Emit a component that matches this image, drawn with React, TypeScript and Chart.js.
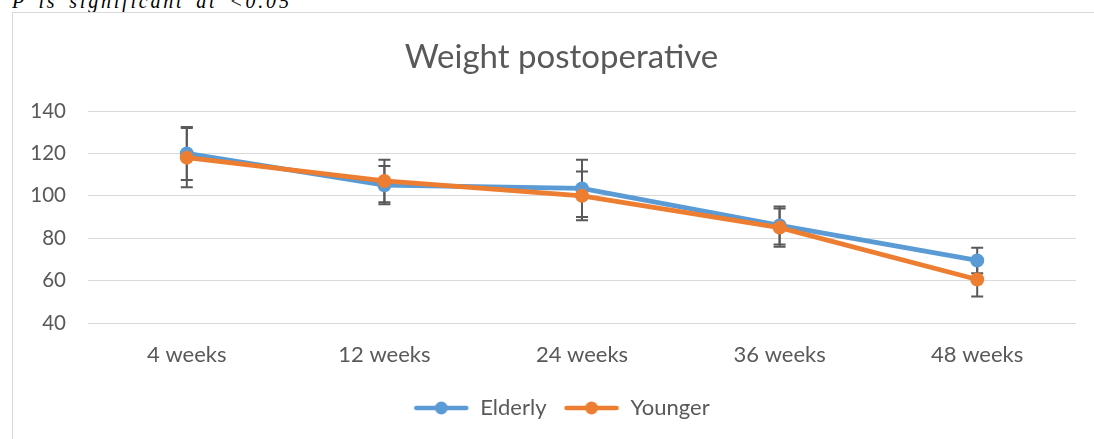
import React, { useEffect, useRef } from "react";
import { Chart, registerables } from "chart.js";

Chart.register(...registerables);

const categories = ["4 weeks", "12 weeks", "24 weeks", "36 weeks", "48 weeks"];
const elderlyMean = [120, 105, 103.5, 86, 69.5];
const elderlyErr = [12.5, 9, 13.5, 9, 6];
const youngerMean = [118, 107, 100, 85, 60.5];
const youngerErr = [14, 10, 11.5, 9, 8];
const yTicks = [40, 60, 80, 100, 120, 140];

const BLUE = "#5B9BD5";
const ORANGE = "#ED7D31";
const TEXT = "#595959";
const FONT = "Lato";

function makeMarker(color: string): HTMLCanvasElement {
  const c = document.createElement("canvas");
  c.width = 56;
  c.height = 16;
  const ctx = c.getContext("2d")!;
  ctx.strokeStyle = color;
  ctx.lineWidth = 4.5;
  ctx.lineCap = "round";
  ctx.beginPath();
  ctx.moveTo(3, 8);
  ctx.lineTo(53, 8);
  ctx.stroke();
  ctx.fillStyle = color;
  ctx.beginPath();
  ctx.arc(28, 8, 6.5, 0, Math.PI * 2);
  ctx.fill();
  return c;
}

const errorBarPlugin = {
  id: "errorBars",
  beforeDatasetsDraw(chart: any) {
    const ctx = chart.ctx;
    const y = chart.scales.y;
    const errs = [elderlyErr, youngerErr];
    const means = [elderlyMean, youngerMean];
    ctx.save();
    ctx.strokeStyle = TEXT;
    ctx.lineWidth = 2;
    for (let d = 0; d < 2; d++) {
      const meta = chart.getDatasetMeta(d);
      meta.data.forEach((pt: any, i: number) => {
        const x = pt.x;
        const top = y.getPixelForValue(means[d][i] + errs[d][i]);
        const bot = y.getPixelForValue(means[d][i] - errs[d][i]);
        ctx.beginPath();
        ctx.moveTo(x, top);
        ctx.lineTo(x, bot);
        ctx.moveTo(x - 6, top);
        ctx.lineTo(x + 6, top);
        ctx.moveTo(x - 6, bot);
        ctx.lineTo(x + 6, bot);
        ctx.stroke();
      });
    }
    ctx.restore();
  },
};

export default function App() {
  const ref = useRef<HTMLCanvasElement>(null);

  useEffect(() => {
    const markers = [makeMarker(BLUE), makeMarker(ORANGE)];
    const chart = new Chart(ref.current!, {
      type: "line",
      data: {
        labels: categories,
        datasets: [
          {
            label: "Elderly",
            data: elderlyMean,
            borderColor: BLUE,
            backgroundColor: BLUE,
            borderWidth: 4.8,
            pointRadius: 7,
            pointBackgroundColor: BLUE,
            pointBorderColor: BLUE,
            pointBorderWidth: 0,
            tension: 0,
            order: 1,
          },
          {
            label: "Younger",
            data: youngerMean,
            borderColor: ORANGE,
            backgroundColor: ORANGE,
            borderWidth: 4.8,
            pointRadius: 7,
            pointBackgroundColor: ORANGE,
            pointBorderColor: ORANGE,
            pointBorderWidth: 0,
            tension: 0,
            order: 0,
          },
        ],
      },
      options: {
        responsive: false,
        maintainAspectRatio: false,
        animation: false,
        devicePixelRatio: 1,
        layout: { padding: { left: 0, right: 0, top: 0, bottom: 14 } },
        plugins: {
          tooltip: { enabled: false },
          title: {
            display: true,
            text: "Weight postoperative",
            color: TEXT,
            font: { family: FONT, size: 33, weight: "normal" },
            padding: { top: 24.2, bottom: 34.2 },
          },
          legend: {
            position: "bottom",
            labels: {
              usePointStyle: true,
              pointStyleWidth: 56,
              padding: 17,
              color: TEXT,
              font: { family: FONT, size: 22 },
              generateLabels: (c: any) => {
                const items = (Chart.defaults.plugins.legend.labels as any).generateLabels(c);
                items.sort((a: any, b: any) => a.datasetIndex - b.datasetIndex);
                items.forEach((it: any) => {
                  it.pointStyle = markers[it.datasetIndex];
                });
                return items;
              },
            },
          },
        },
        scales: {
          x: {
            offset: true,
            grid: { display: false, drawTicks: false },
            border: { display: false },
            afterFit: (s: any) => {
              s.height = 57;
            },
            ticks: {
              color: TEXT,
              padding: 18,
              font: { family: FONT, size: 22, lineHeight: 28 / 22 },
            },
          },
          y: {
            min: 40,
            max: 140,
            afterFit: (s: any) => {
              s.width = 75;
            },
            afterBuildTicks: (s: any) => {
              s.ticks = yTicks.map((v) => ({ value: v }));
            },
            grid: { color: "#d9d9d9", lineWidth: 1, drawTicks: false },
            border: { display: false },
            ticks: {
              color: TEXT,
              padding: 22,
              font: { family: FONT, size: 20.5 },
            },
          },
          ySpacer: {
            type: "linear",
            position: "right",
            display: true,
            grid: { display: false, drawTicks: false },
            border: { display: false },
            ticks: { display: false },
            afterFit: (s: any) => {
              s.width = 34;
            },
          },
        },
      },
      plugins: [errorBarPlugin],
    });
    return () => chart.destroy();
  }, []);

  return (
    <div
      style={{
        position: "fixed",
        left: 0,
        top: 0,
        width: 1094,
        height: 439,
        overflow: "hidden",
        background: "#fff",
      }}
    >
      <div
        style={{
          position: "absolute",
          left: 12,
          top: -9,
          font: 'italic 20px "Liberation Serif"',
          lineHeight: "20px",
          letterSpacing: 2.8,
          wordSpacing: 4,
          whiteSpace: "nowrap",
          color: "#000",
        }}
      >
        P is significant at &lt;0.05
      </div>
      <div
        style={{
          position: "absolute",
          left: 12,
          top: 12,
          width: 1097,
          height: 430,
          border: "1px solid #d9d9d9",
        }}
      >
        <canvas
          ref={ref}
          width={1097}
          height={430}
          style={{ display: "block", width: 1097, height: 430 }}
        />
      </div>
    </div>
  );
}
